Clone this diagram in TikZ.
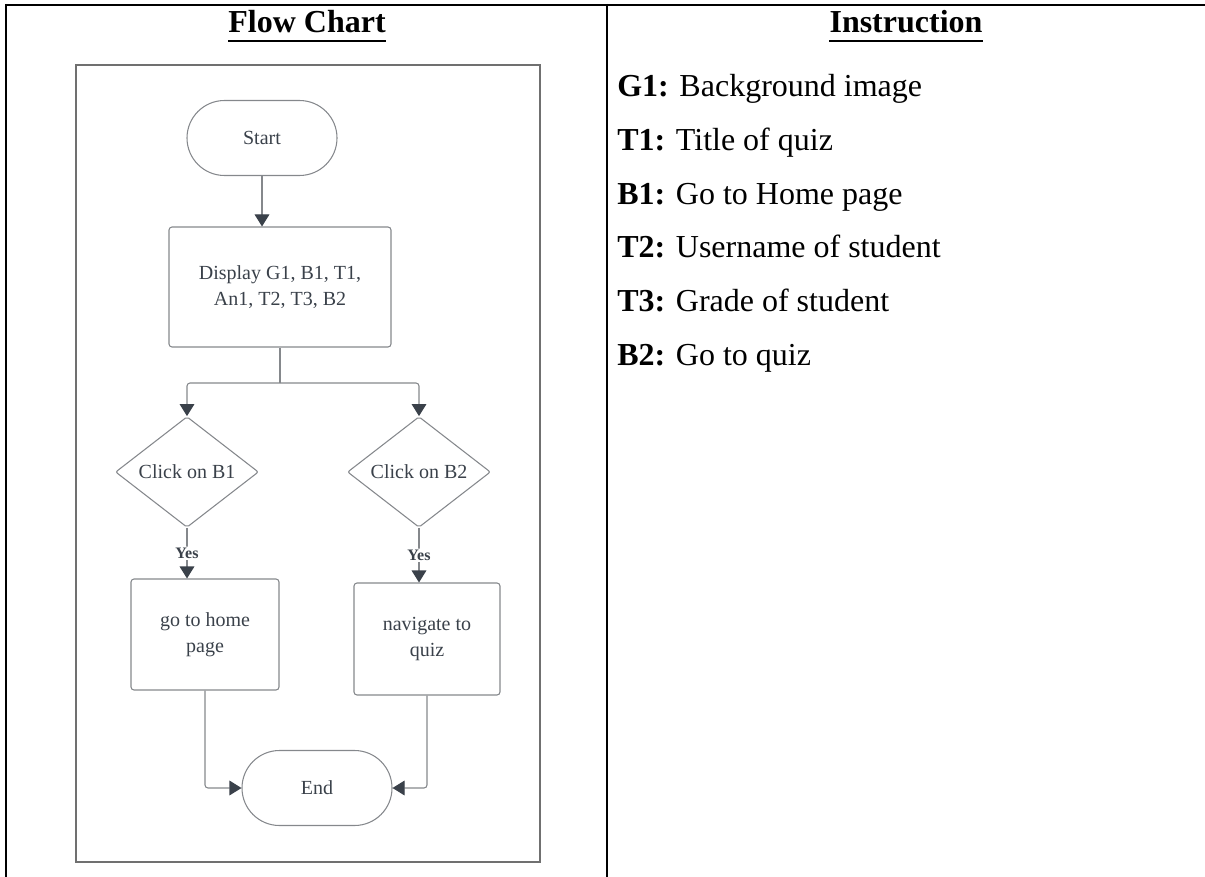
\documentclass[tikz,border=0pt]{standalone}
\usepackage{fontspec}
\setmainfont{Liberation Serif}
\usetikzlibrary{arrows.meta,shapes.geometric,shapes.misc}
\definecolor{ink}{HTML}{3A414A}
\definecolor{shapeline}{HTML}{85888C}
\definecolor{framegray}{HTML}{707070}
\begin{document}
\begin{tikzpicture}[x=0.75pt,y=-0.75pt,
  rule/.style={line width=1.9pt,black},
  uline/.style={line width=1.8pt,black},
  frame/.style={line width=1.1pt,draw=framegray},
  flowtext/.style={text=ink,font=\fontsize{15}{19.5}\selectfont,align=center,inner sep=0pt},
  term/.style={flowtext,rounded rectangle,draw=shapeline,line width=0.8pt,minimum width=112.5pt,minimum height=56.25pt},
  procbox/.style={flowtext,rectangle,rounded corners=2.25pt,draw=shapeline,line width=0.8pt},
  decision/.style={flowtext,diamond,draw=shapeline,line width=0.8pt,minimum width=107.25pt,minimum height=81pt,rounded corners=1.5pt},
  conn/.style={draw=shapeline,line width=0.8pt,rounded corners=2.25pt,-{Triangle[width=11pt,length=9pt,fill=ink,color=ink]}},
  plainconn/.style={draw=shapeline,line width=0.8pt,rounded corners=2.25pt},
  yeslabel/.style={text=ink,font=\fontsize{12}{14}\selectfont\bfseries,fill=white,inner sep=1pt},
  header/.style={font=\fontsize{24}{28}\selectfont\bfseries,anchor=base,inner sep=0pt},
  item/.style={font=\fontsize{24}{28}\selectfont,anchor=base west,inner sep=0pt}
]
\useasboundingbox (0,0) rectangle (1205,877);
% table rules
\draw[rule] (6,5) -- (1205,5);
\draw[rule] (6,4) -- (6,877);
\draw[rule] (607,4) -- (607,877);
% headers
\node[header] (hflow) at (307,33) {Flow Chart};
\node[header] (hinst) at (906,33) {Instruction};
\draw[uline] ([yshift=-6pt]hflow.base west) -- ([yshift=-6pt]hflow.base east);
\draw[uline] ([yshift=-6pt]hinst.base west) -- ([yshift=-6pt]hinst.base east);
% instruction items
\node[item] (i1) at (617,97) {\textbf{G1:} Background image};
\node[item] (i2) at (617,150.6) {\textbf{T1:} Title of quiz};
\node[item] (i3) at (617,204.2) {\textbf{B1:} Go to Home page};
\node[item] (i4) at (617,257.8) {\textbf{T2:} Username of student};
\node[item] (i5) at (617,311.4) {\textbf{T3:} Grade of student};
\node[item] (i6) at (617,365) {\textbf{B2:} Go to quiz};
% flowchart frame
\draw[frame] (76,65) rectangle (540,862);
% nodes
\node[term] (start) at (262,138) {Start};
\node[procbox,minimum width=166.5pt,minimum height=90pt] (disp) at (280,287) {Display G1, B1, T1,\\An1, T2, T3, B2};
\node[decision] (d1) at (187,472) {Click on B1};
\node[decision] (d2) at (419,472) {Click on B2};
\node[procbox,minimum width=111pt,minimum height=83.25pt] (b1) at (205,634.5) {go to home\\page};
\node[procbox,minimum width=109.5pt,minimum height=84pt] (b2) at (427,639) {navigate to\\quiz};
\node[term] (end) at (317,788) {End};
\coordinate (split) at (280,383);
% connectors
\draw[conn] (start.south) -- (start.south |- disp.north);
\draw[plainconn] (disp.south) -- (split);
\draw[conn] (split) -| (d1.north);
\draw[conn] (split) -| (d2.north);
\draw[conn] (d1.south) -- node[yeslabel] {Yes} (d1.south |- b1.north);
\draw[conn] (d2.south) -- node[yeslabel] {Yes} (d2.south |- b2.north);
\draw[conn] (b1.south) |- (end.west);
\draw[conn] (b2.south) |- (end.east);
\end{tikzpicture}
\end{document}
